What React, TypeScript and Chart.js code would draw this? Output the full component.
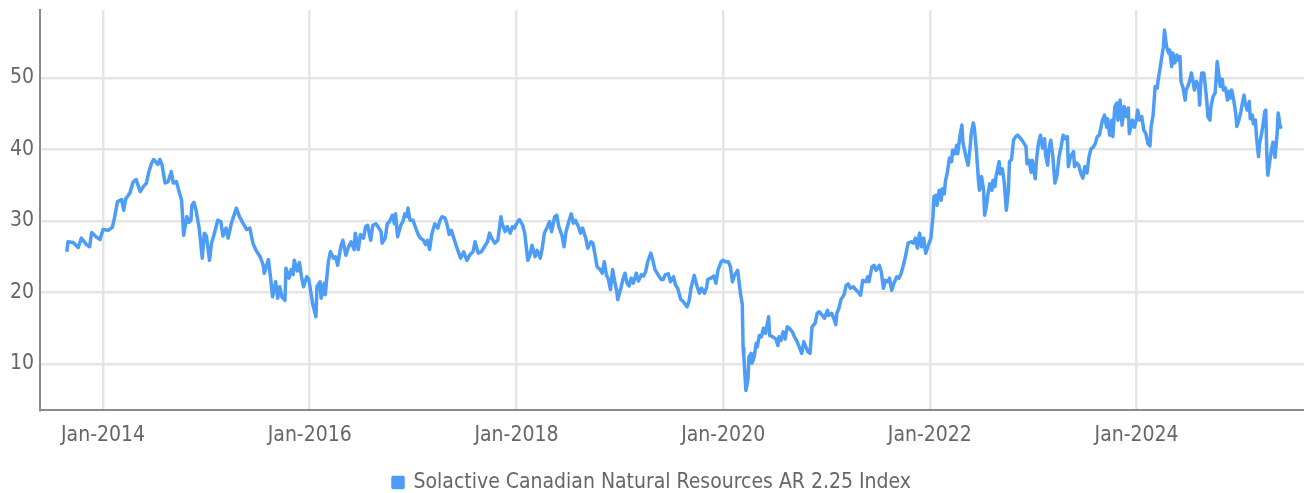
import { useEffect, useRef } from 'react';
import { Chart, registerables } from 'chart.js';
Chart.register(...registerables);

const seriesLabel = 'Solactive Canadian Natural Resources AR 2.25 Index';
const xTickYears = [2014, 2016, 2018, 2020, 2022, 2024];
const yTickValues = [10, 20, 30, 40, 50];

// decimal-year dates of the sampled points
const dates = [
  2013.65, 2013.66, 2013.71, 2013.76, 2013.79, 2013.84, 2013.87, 2013.89, 2013.94, 2013.97,
  2014.00, 2014.05, 2014.09, 2014.11, 2014.14, 2014.18, 2014.20, 2014.22, 2014.26, 2014.29,
  2014.32, 2014.36, 2014.39, 2014.42, 2014.44, 2014.47, 2014.49, 2014.53, 2014.55, 2014.57,
  2014.60, 2014.63, 2014.66, 2014.68, 2014.71, 2014.74, 2014.76, 2014.78, 2014.81, 2014.83,
  2014.85, 2014.86, 2014.88, 2014.90, 2014.93, 2014.96, 2014.98, 2015.00, 2015.03, 2015.05,
  2015.07, 2015.11, 2015.14, 2015.16, 2015.19, 2015.21, 2015.24, 2015.29, 2015.32, 2015.35,
  2015.39, 2015.42, 2015.45, 2015.48, 2015.52, 2015.55, 2015.56,
  2015.60, 2015.62, 2015.64, 2015.67, 2015.69, 2015.71, 2015.73, 2015.76, 2015.77, 2015.80,
  2015.82, 2015.84, 2015.85, 2015.88, 2015.90, 2015.92, 2015.94, 2015.97, 2015.99, 2016.01,
  2016.03, 2016.06, 2016.07, 2016.10, 2016.11, 2016.14, 2016.15, 2016.18, 2016.20, 2016.23,
  2016.25, 2016.27, 2016.30, 2016.32, 2016.35, 2016.37, 2016.40, 2016.43, 2016.44, 2016.47,
  2016.49, 2016.52, 2016.54, 2016.56, 2016.59, 2016.61, 2016.64, 2016.66, 2016.69, 2016.70,
  2016.73, 2016.75, 2016.77, 2016.80, 2016.82, 2016.83, 2016.85, 2016.88, 2016.90, 2016.92,
  2016.94, 2016.95, 2016.97, 2017.00, 2017.02, 2017.05, 2017.07, 2017.10, 2017.12, 2017.14,
  2017.16, 2017.18, 2017.21, 2017.24, 2017.26, 2017.28, 2017.31, 2017.33, 2017.35, 2017.37,
  2017.40,
  2017.43, 2017.46, 2017.49, 2017.52, 2017.55, 2017.58, 2017.60, 2017.63, 2017.66, 2017.69,
  2017.72, 2017.74, 2017.76, 2017.79, 2017.82, 2017.85, 2017.86, 2017.89, 2017.91, 2017.94,
  2017.96, 2017.98, 2018.01, 2018.03, 2018.06, 2018.08, 2018.11, 2018.13, 2018.15, 2018.18,
  2018.20, 2018.23, 2018.25, 2018.27, 2018.30, 2018.32, 2018.34, 2018.37, 2018.39, 2018.41,
  2018.44, 2018.46, 2018.48, 2018.51, 2018.53, 2018.55, 2018.57, 2018.60, 2018.62, 2018.64,
  2018.67, 2018.69, 2018.72, 2018.74, 2018.76, 2018.78, 2018.81, 2018.83, 2018.85, 2018.87,
  2018.89, 2018.91, 2018.93, 2018.95, 2018.97, 2018.98, 2019.01, 2019.03, 2019.05, 2019.07,
  2019.09, 2019.11, 2019.13, 2019.16, 2019.18, 2019.21, 2019.23, 2019.25, 2019.27, 2019.30,
  2019.32, 2019.34, 2019.37, 2019.40,
  2019.42, 2019.44, 2019.47, 2019.49, 2019.52, 2019.54, 2019.56, 2019.59, 2019.61, 2019.65,
  2019.67, 2019.69, 2019.72, 2019.74, 2019.77, 2019.79, 2019.82, 2019.84, 2019.85, 2019.88,
  2019.91, 2019.93, 2019.95, 2019.98, 2020.00, 2020.02, 2020.05, 2020.07, 2020.09, 2020.11,
  2020.14, 2020.15, 2020.17, 2020.185, 2020.193, 2020.20, 2020.22, 2020.24, 2020.25, 2020.27,
  2020.28, 2020.30, 2020.32, 2020.33, 2020.35, 2020.37, 2020.39, 2020.41, 2020.44, 2020.45,
  2020.48, 2020.51, 2020.53, 2020.54, 2020.56, 2020.58, 2020.60, 2020.62, 2020.64, 2020.67,
  2020.69, 2020.71, 2020.73, 2020.76, 2020.78, 2020.80, 2020.82, 2020.84, 2020.86, 2020.89,
  2020.91, 2020.93, 2020.96, 2020.98, 2021.01, 2021.02, 2021.05, 2021.07, 2021.09, 2021.10,
  2021.12, 2021.14, 2021.17, 2021.19, 2021.21, 2021.23, 2021.26,
  2021.27, 2021.31, 2021.33, 2021.35, 2021.38, 2021.40, 2021.41, 2021.44, 2021.46, 2021.48,
  2021.51, 2021.53, 2021.55, 2021.57, 2021.59, 2021.61, 2021.63, 2021.65, 2021.68, 2021.70,
  2021.72, 2021.74, 2021.76, 2021.77, 2021.79, 2021.82, 2021.84, 2021.86, 2021.88, 2021.90,
  2021.92, 2021.94, 2021.96, 2021.98, 2022.01, 2022.03, 2022.04, 2022.06, 2022.07, 2022.09,
  2022.11, 2022.12, 2022.14, 2022.15, 2022.17, 2022.19, 2022.21, 2022.22, 2022.24, 2022.26,
  2022.27, 2022.29, 2022.31, 2022.32, 2022.34, 2022.35, 2022.37, 2022.39, 2022.40, 2022.42,
  2022.43, 2022.45, 2022.47, 2022.48, 2022.50, 2022.52, 2022.53, 2022.55, 2022.56, 2022.58,
  2022.60, 2022.61, 2022.63, 2022.64, 2022.67, 2022.68, 2022.70, 2022.72, 2022.73, 2022.74,
  2022.76, 2022.77, 2022.79, 2022.81, 2022.83, 2022.85, 2022.88, 2022.90, 2022.93, 2022.94,
  2022.96, 2022.98, 2022.99, 2023.02, 2023.03, 2023.05, 2023.07, 2023.09, 2023.11, 2023.12,
  2023.14, 2023.15, 2023.17, 2023.19, 2023.21, 2023.23, 2023.25, 2023.27, 2023.29, 2023.31,
  2023.33, 2023.34, 2023.36, 2023.39, 2023.40, 2023.42, 2023.44, 2023.46, 2023.48, 2023.50,
  2023.52, 2023.54, 2023.56, 2023.58, 2023.60, 2023.62, 2023.64, 2023.67, 2023.69, 2023.71,
  2023.72, 2023.74, 2023.76, 2023.77, 2023.79, 2023.81, 2023.82, 2023.84, 2023.86, 2023.88,
  2023.90, 2023.92, 2023.93, 2023.96, 2023.98, 2024.00, 2024.01, 2024.03, 2024.05, 2024.07,
  2024.09, 2024.11, 2024.13, 2024.14, 2024.16, 2024.18, 2024.20, 2024.21, 2024.22, 2024.24,
  2024.26, 2024.27, 2024.29, 2024.31, 2024.32, 2024.34, 2024.35, 2024.37, 2024.39, 2024.40,
  2024.42, 2024.43, 2024.45, 2024.47, 2024.48, 2024.50, 2024.52, 2024.53, 2024.55, 2024.56,
  2024.58, 2024.60, 2024.61, 2024.62, 2024.63, 2024.65, 2024.66, 2024.68, 2024.69, 2024.71,
  2024.72, 2024.74, 2024.76, 2024.77, 2024.78, 2024.80, 2024.81, 2024.83, 2024.84, 2024.86,
  2024.88, 2024.89, 2024.91, 2024.92, 2024.94, 2024.96, 2024.97, 2024.99, 2025.01, 2025.02,
  2025.04, 2025.05, 2025.07, 2025.09, 2025.10, 2025.12, 2025.13, 2025.15, 2025.16, 2025.18,
  2025.19, 2025.21, 2025.23, 2025.24, 2025.25, 2025.26, 2025.27, 2025.29, 2025.31, 2025.32,
  2025.33, 2025.34, 2025.36, 2025.37, 2025.39, 2025.40,
];

// index level at each date
const values = [
  25.7, 27.1, 27.0, 26.3, 27.6, 26.7, 26.4, 28.4, 27.7, 27.4,
  28.8, 28.7, 29.1, 30.4, 32.7, 33.0, 31.5, 33.1, 33.9, 35.4,
  35.8, 34.1, 34.8, 35.3, 36.7, 38.1, 38.6, 37.9, 38.6, 37.9,
  35.3, 35.5, 36.9, 35.3, 35.5, 33.9, 32.9, 28.0, 30.6, 29.8,
  30.1, 32.2, 32.6, 31.5, 29.0, 24.8, 28.3, 27.9, 24.5, 26.9,
  27.9, 30.1, 29.9, 27.9, 29.0, 27.6, 29.6, 31.8, 30.6, 29.8,
  28.8, 29.0, 26.9, 25.9, 25.0, 23.8, 22.7,
  24.6, 22.2, 19.4, 21.5, 19.2, 20.8, 19.4, 18.9, 23.4, 22.0,
  23.2, 22.5, 24.5, 23.0, 24.2, 22.2, 20.8, 22.2, 21.9, 20.1,
  18.3, 16.6, 20.8, 21.5, 19.2, 21.3, 19.7, 24.3, 25.7, 24.8,
  25.0, 23.8, 26.4, 27.3, 25.2, 26.2, 27.1, 26.0, 28.3, 26.0,
  28.1, 27.6, 29.2, 29.4, 27.3, 29.4, 29.6, 29.2, 28.5, 26.9,
  27.6, 29.6, 29.9, 30.8, 29.6, 31.0, 27.8, 29.4, 29.9, 31.0,
  30.6, 31.8, 30.1, 30.1, 29.2, 28.1, 27.6, 27.3, 26.7, 27.3,
  26.0, 28.1, 29.6, 29.0, 30.1, 30.6, 30.4, 29.4, 28.1, 28.7,
  27.3,
  26.0, 24.8, 25.7, 24.5, 25.3, 25.7, 27.1, 25.5, 25.7, 26.4,
  27.1, 28.3, 27.6, 26.9, 27.3, 30.6, 29.7, 28.5, 29.2, 28.3,
  29.2, 29.0, 29.9, 30.2, 29.4, 28.3, 24.5, 25.2, 26.6, 25.0,
  25.9, 24.8, 26.2, 28.3, 29.2, 29.9, 28.5, 30.6, 30.8, 29.2,
  28.0, 26.4, 28.5, 30.1, 31.0, 29.7, 30.1, 29.2, 28.3, 29.0,
  27.6, 26.2, 27.1, 26.9, 25.3, 23.6, 23.2, 22.7, 24.3, 22.5,
  21.8, 20.4, 23.2, 21.6, 20.2, 19.0, 20.6, 21.8, 22.7, 21.3,
  20.9, 22.0, 21.3, 22.7, 21.6, 22.5, 22.3, 22.9, 24.3, 25.5,
  24.5, 23.2, 22.5, 21.8,
  21.8, 22.5, 22.6, 21.5, 22.2, 21.0, 20.6, 19.0, 18.8, 18.0,
  18.8, 20.7, 22.4, 21.2, 19.9, 20.6, 19.9, 20.7, 21.8, 22.0,
  22.3, 21.3, 23.1, 24.3, 24.5, 24.3, 24.3, 23.6, 21.5, 22.4,
  23.1, 22.0, 19.6, 18.4, 12.2, 11.0, 6.3, 7.8, 11.0, 11.5,
  10.1, 11.0, 12.9, 12.4, 14.0, 13.8, 15.0, 14.3, 16.6, 14.0,
  13.8, 13.5, 12.6, 13.8, 13.3, 14.5, 13.5, 15.2, 15.0, 14.5,
  13.8, 13.3, 12.6, 11.5, 13.1, 12.4, 11.7, 11.5, 15.2, 15.7,
  17.1, 17.3, 16.8, 16.4, 17.5, 16.8, 17.1, 16.4, 15.5, 17.1,
  17.8, 19.0, 19.7, 21.0, 21.2, 20.6, 20.8,
  20.6, 20.0, 19.6, 21.7, 21.5, 22.2, 21.5, 23.6, 23.8, 23.1,
  23.8, 22.9, 20.6, 21.7, 21.5, 22.0, 20.3, 21.2, 22.2, 22.0,
  22.6, 23.6, 24.8, 25.5, 26.9, 27.1, 26.9, 27.6, 26.2, 28.3,
  26.4, 27.6, 25.5, 26.4, 27.6, 30.6, 33.4, 33.6, 32.2, 34.3,
  32.9, 34.5, 33.8, 35.5, 36.9, 38.8, 38.3, 39.9, 39.4, 40.6,
  39.4, 41.8, 43.4, 41.0, 39.6, 38.9, 37.8, 40.4, 42.2, 43.7,
  43.0, 39.9, 35.7, 34.3, 36.2, 34.3, 30.8, 32.4, 33.6, 35.2,
  34.3, 35.7, 34.8, 36.2, 38.3, 36.6, 37.3, 35.4, 33.4, 31.5,
  34.3, 38.3, 38.6, 41.3, 41.8, 42.0, 41.5, 41.1, 40.4, 38.0,
  38.5, 36.8, 38.5, 35.9, 38.3, 40.8, 42.0, 40.2, 41.5, 39.2,
  37.8, 39.9, 41.3, 39.0, 35.3, 36.4, 39.0, 40.4, 42.0, 41.5,
  41.8, 37.6, 39.0, 39.7, 37.6, 38.1, 37.8, 36.7, 36.0, 37.6,
  36.7, 39.0, 40.1, 40.3, 40.8, 41.8, 42.0, 44.1, 44.8, 43.1,
  44.3, 42.0, 44.1, 41.8, 46.0, 46.5, 44.1, 46.9, 43.4, 46.0,
  44.6, 45.8, 42.2, 44.1, 43.1, 44.3, 45.5, 44.1, 44.6, 42.7,
  42.2, 40.8, 40.5, 43.1, 44.8, 48.8, 48.6, 49.8, 50.7, 52.5,
  54.4, 56.7, 54.4, 53.5, 53.9, 51.6, 53.5, 52.1, 53.2, 52.5,
  53.0, 49.5, 48.6, 46.9, 48.3, 49.0, 49.9, 50.7, 49.2, 48.3,
  49.5, 48.8, 46.2, 49.0, 50.7, 50.7, 49.5, 46.7, 44.6, 44.1,
  46.0, 47.4, 47.9, 49.8, 52.3, 50.0, 48.8, 49.8, 48.3, 48.6,
  46.9, 48.1, 47.2, 48.3, 46.9, 45.0, 43.2, 44.1, 45.3, 46.2,
  47.6, 46.5, 45.5, 46.7, 44.3, 44.8, 43.6, 44.1, 41.8, 39.0,
  40.8, 42.2, 44.1, 45.3, 45.5, 39.4, 36.4, 38.5, 40.3, 41.0,
  39.9, 38.9, 42.2, 45.1, 43.2, 42.9,
];

const FONT = "'DejaVu Sans Condensed', 'Liberation Sans Narrow', 'Noto Sans', sans-serif";
const BLUE = '#4d9cf6';
const GRID = '#e5e5e5';
const AXIS = '#8a8a8a';
const TEXT = '#666666';
const FONT_SIZE = 21;

export default function App() {
  const ref = useRef<HTMLCanvasElement | null>(null);

  useEffect(() => {
    document.body.style.margin = '0';
    const n = Math.min(dates.length, values.length);
    const points = [];
    for (let i = 0; i < n; i++) points.push({ x: dates[i], y: values[i] });

    const chart = new Chart(ref.current as HTMLCanvasElement, {
      type: 'line',
      data: {
        datasets: [
          {
            label: seriesLabel,
            data: points,
            borderColor: BLUE,
            backgroundColor: BLUE,
            borderWidth: 3.5,
            borderJoinStyle: 'round',
            pointRadius: 0,
            tension: 0,
            fill: false,
          },
        ],
      },
      options: {
        animation: false,
        responsive: false,
        layout: { padding: { top: 10, left: 0, right: 0, bottom: -10 } },
        plugins: {
          tooltip: { enabled: false },
          legend: {
            position: 'bottom',
            labels: {
              font: { family: FONT, size: FONT_SIZE },
              color: TEXT,
              boxWidth: 10,
              boxHeight: 10,
              padding: 0,
            },
          },
        },
        scales: {
          x: {
            type: 'linear',
            min: 2013.39,
            max: 2025.62,
            border: { display: true, color: AXIS, width: 2 },
            grid: { color: GRID, lineWidth: 2.5, drawTicks: false },
            ticks: {
              font: { family: FONT, size: FONT_SIZE },
              color: TEXT,
              padding: 13,
              maxRotation: 0,
              callback: (v: any) => 'Jan-' + v,
            },
            afterBuildTicks: (s: any) => {
              s.ticks = xTickYears.map((v) => ({ value: v }));
            },
            afterFit: (s: any) => {
              s.height = 62;
              s.paddingLeft = 0;
              s.paddingRight = 0;
            },
          },
          y: {
            min: 3.57,
            max: 59.5,
            border: { display: true, color: AXIS, width: 2 },
            grid: { color: GRID, lineWidth: 2.5, drawTicks: false },
            ticks: {
              font: { family: FONT, size: FONT_SIZE },
              color: TEXT,
              padding: 6,
            },
            afterBuildTicks: (s: any) => {
              s.ticks = yTickValues.map((v) => ({ value: v }));
            },
            afterFit: (s: any) => {
              s.width = 40;
              s.paddingTop = 0;
              s.paddingBottom = 0;
            },
          },
        },
      },
    });
    return () => chart.destroy();
  }, []);

  return (
    <div style={{ width: 1304, height: 493 }}>
      <canvas ref={ref} width={1304} height={493} style={{ display: 'block' }} />
    </div>
  );
}
